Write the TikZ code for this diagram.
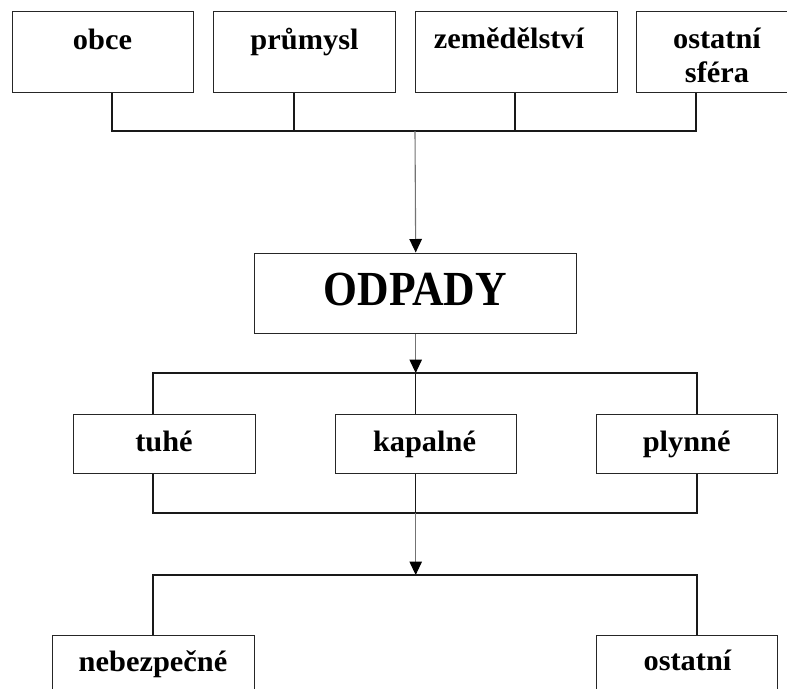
\documentclass[tikz,border=0pt]{standalone}
\usepackage{fontspec}
\setmainfont{Liberation Serif}
\newfontfamily\labfnt[FakeStretch=1.03]{Liberation Serif}
\newfontfamily\odfnt[FakeStretch=0.89]{Liberation Serif}
\usetikzlibrary{arrows.meta}
\begin{document}
\begin{tikzpicture}[x=1pt,y=-1pt,
  box/.style={draw=black!85,line width=1.4pt,rectangle,inner sep=0pt,anchor=north west},
  lab/.style={anchor=base,inner sep=0pt,font=\labfnt\bfseries\fontsize{29.5}{32}\selectfont},
  conn/.style={draw=black!90,line width=1.2pt},
  arr/.style={draw=black!55,line width=1.1pt,-{Triangle[width=12.5pt,length=13.5pt,color=black]}}]
\fill[white] (0,0) rectangle (787,688);
\useasboundingbox (0,0) rectangle (787,688);
\clip (0,0) rectangle (787,688);
% top row
\node[box,minimum width=181pt,minimum height=81pt] (b1) at (12,11) {};
\node[box,minimum width=182pt,minimum height=81pt] (b2) at (213,11) {};
\node[box,minimum width=202pt,minimum height=81pt] (b3) at (415,11) {};
\node[box,minimum width=162pt,minimum height=81pt] (b4) at (636,11) {};
\node[lab] (t1) at (102.5,49.5) {obce};
\node[lab] (t2) at (304.5,49.5) {průmysl};
\node[lab] (t3) at (509,48.5) {zemědělství};
\node[lab] (t4a) at (717,48.5) {ostatní};
\node[lab] (t4b) at (717,82.7) {sféra};
% ODPADY
\node[box,minimum width=322pt,minimum height=80pt] (od) at (254,252.5) {};
\node[anchor=base,inner sep=0pt,font=\odfnt\bfseries\fontsize{49}{52}\selectfont] (tod) at (415.3,305) {ODPADY};
% middle row
\node[box,minimum width=182pt,minimum height=59pt] (m1) at (73,414) {};
\node[box,minimum width=181pt,minimum height=59pt] (m2) at (335,414) {};
\node[box,minimum width=181pt,minimum height=59pt] (m3) at (596,414) {};
\node[lab] (tm1) at (164,451.7) {tuhé};
\node[lab] (tm2) at (424.5,451.7) {kapalné};
\node[lab] (tm3) at (686.7,451.7) {plynné};
% bottom row
\node[box,minimum width=202pt,minimum height=80pt] (n1) at (52,634.5) {};
\node[box,minimum width=181pt,minimum height=80pt] (n2) at (596,634.5) {};
\node[lab] (tn1) at (153,671) {nebezpečné};
\node[lab] (tn2) at (687.5,670.7) {ostatní};
% coordinates
\coordinate (ba) at (112,131);
\coordinate (bb) at (294,131);
\coordinate (bc) at (515,131);
\coordinate (bd) at (696,131);
\coordinate (bm) at (415,131);
\coordinate (la) at (153,373);
\coordinate (lc) at (697,373);
\coordinate (ua) at (153,513);
\coordinate (uc) at (697,513);
\coordinate (ca) at (153,575);
\coordinate (cc) at (697,575);
% connectors top
\draw[conn] (b1.south -| ba) -- (ba) -- (bd) -- (b4.south -| bd);
\draw[conn] (b2.south -| bb) -- (bb);
\draw[conn] (b3.south -| bc) -- (bc);
\draw[arr] (bm) -- (od.north);
% below ODPADY
\draw[arr] (od.south) -- (od.south |- la);
\draw[conn] (m1.north -| la) -- (la) -- (lc) -- (m3.north -| lc);
\draw[conn] (od.south |- la) -- (m2.north -| od.south);
% below middle row
\draw[conn] (m1.south -| ua) -- (ua) -- (uc) -- (m3.south -| uc);
\draw[conn] (m2.south -| od.south) -- (od.south |- ua);
\draw[arr] (od.south |- ua) -- (od.south |- ca);
% bottom bus
\draw[conn] (n1.north -| ca) -- (ca) -- (cc) -- (n2.north -| cc);
\end{tikzpicture}
\end{document}
